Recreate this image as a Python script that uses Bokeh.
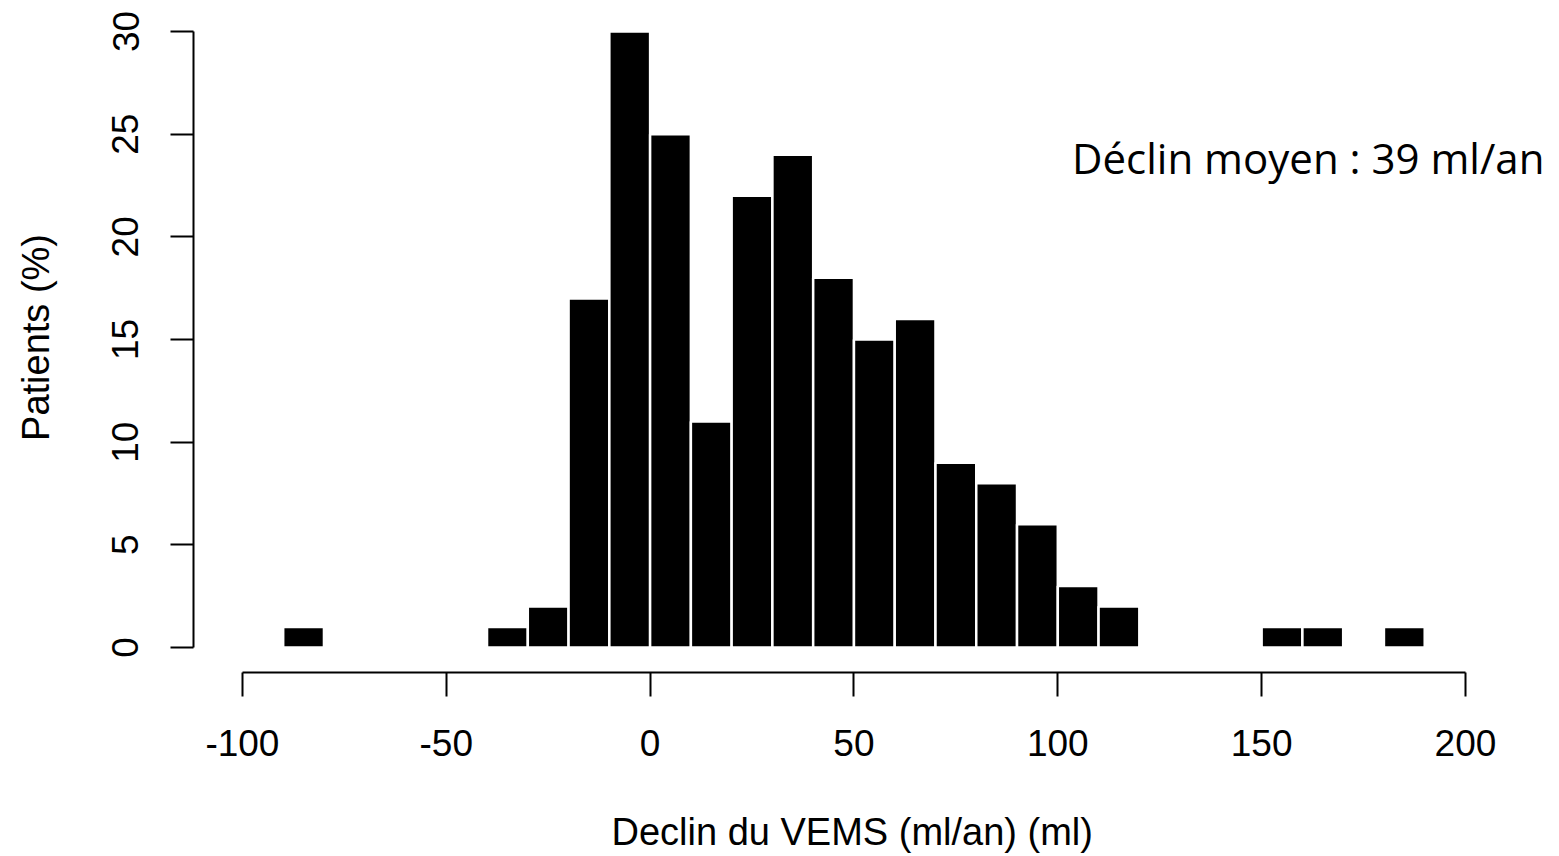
from bokeh.plotting import figure
from bokeh.models import FixedTicker, Range1d, Label, Title
from bokeh.embed import file_html
from bokeh.resources import INLINE

# Histogram data (bins of 10 ml/an, percent of patients)
bin_left = [-90, -40, -30, -20, -10, 0, 10, 20, 30, 40, 50, 60, 70, 80, 90, 100, 110, 150, 160, 180]
percent = [1, 1, 2, 17, 30, 25, 11, 22, 24, 18, 15, 16, 9, 8, 6, 3, 2, 1, 1, 1]
bin_width = 10
x_ticks = [-100, -50, 0, 50, 100, 150, 200]
y_ticks = [0, 5, 10, 15, 20, 25, 30]

bin_right = [b + bin_width for b in bin_left]

p = figure(width=1551, height=856, output_backend="svg", toolbar_location=None,
           x_range=Range1d(-112.0, 221.1), y_range=Range1d(-1.218, 31.41),
           min_border_left=193, min_border_right=0, min_border_top=2, min_border_bottom=184)
p.outline_line_color = None
p.grid.visible = False
p.background_fill_color = "white"
p.border_fill_color = "white"

p.quad(left=bin_left, right=bin_right, bottom=0, top=percent,
       fill_color="black", line_color="white", line_width=2.5)

for ax in (p.xaxis[0], p.yaxis[0]):
    ax.axis_line_width = 2
    ax.major_tick_line_width = 2
    ax.major_tick_in = 0
    ax.minor_tick_line_color = None
    ax.major_label_text_font = "Liberation Sans"
    ax.major_label_text_font_size = "37px"
    ax.major_label_text_color = "black"
    ax.axis_label_text_font = "Liberation Sans"
    ax.axis_label_text_font_size = "38px"
    ax.axis_label_text_font_style = "normal"
    ax.axis_label_text_color = "black"

xa = p.xaxis[0]
xa.ticker = FixedTicker(ticks=x_ticks)
xa.bounds = (-100, 200)
xa.major_tick_out = 24
xa.major_label_standoff = 33
xa.major_label_overrides = {t: str(t) for t in x_ticks}
# blank spacer label: only reserves room so the title below sits lower
xa.axis_label = "\u00a0"
xa.axis_label_standoff = 5

p.add_layout(Title(text="Declin du VEMS (ml/an) (ml)", align="left", offset=418,
                   text_font="Liberation Sans", text_font_size="38px",
                   text_font_style="normal", text_color="black", standoff=0), "below")

ya = p.yaxis[0]
ya.ticker = FixedTicker(ticks=y_ticks)
ya.bounds = (0, 30)
ya.major_tick_out = 23
ya.major_label_standoff = 32
ya.major_label_orientation = "vertical"
ya.axis_label = "Patients (%)"
ya.axis_label_standoff = 53

p.add_layout(Label(x=103.5, y=23.85, text="Déclin moyen : 39 ml/an",
                   text_font="Open Sans", text_font_size="42px",
                   text_color="black", text_baseline="alphabetic", text_align="left"))

open("out.html", "w").write(file_html(p, INLINE))
